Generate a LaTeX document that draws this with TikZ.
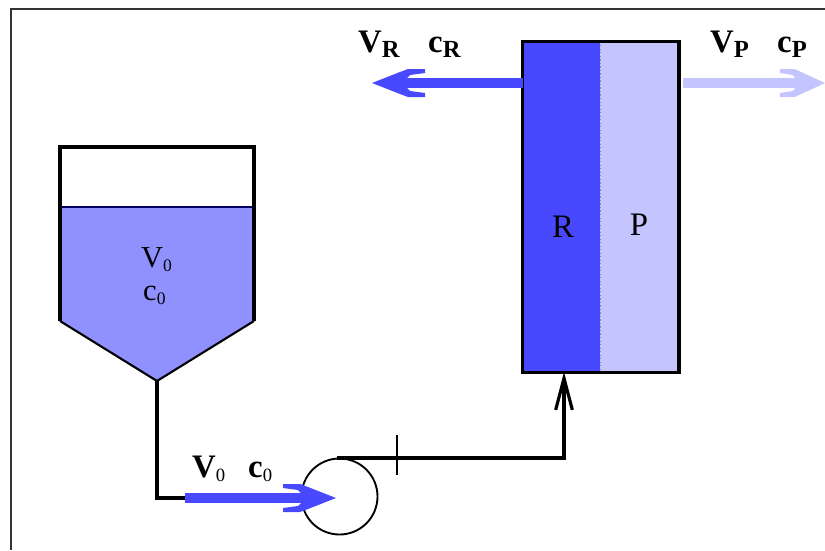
\documentclass[tikz,border=0pt]{standalone}
\usepackage{fontspec}
\setmainfont{Liberation Serif}
\usepackage{xcolor}
\usetikzlibrary{positioning,arrows.meta,calc}

\definecolor{feedblue}{HTML}{9090FF}
\definecolor{retblue}{HTML}{4848FF}
\definecolor{permblue}{HTML}{C4C4FF}

% bold flow symbol: letter + lowered subscript
\newcommand{\flowsym}[2]{{\fontsize{28}{28}\selectfont\bfseries #1}\raisebox{-5pt}{\fontsize{21}{21}\selectfont\bfseries #2}}
\newcommand{\feedsym}[2]{{\fontsize{28}{28}\selectfont\bfseries #1}\raisebox{-4pt}{\fontsize{16}{16}\selectfont #2}}
\newcommand{\tanksym}[2]{{\fontsize{26}{26}\selectfont #1}\raisebox{-4pt}{\fontsize{15}{15}\selectfont #2}}

\begin{document}
\begin{tikzpicture}[
        x=0.03cm, y=-0.03cm,
        membrane/.style={
            minimum width=2.31cm,
            minimum height=9.9cm,
            inner sep=0pt
        },
        symlabel/.style={anchor=base west, inner sep=0pt},
        modlabel/.style={inner sep=0pt, font=\fontsize{28}{28}\selectfont},
        wall/.style={draw=black, line width=2.8pt},
        pipe/.style={draw=black, line width=2.7pt},
        flowline/.style={line width=8.5pt, shorten >=0.6cm},
        flowhead/.pic={
            \fill (0,0) -- (-28,-11) -- (-36,-14) -- (-53,-14) -- (-53,-10) -- (-38,-8) -- (-34,-4)
                -- (-34,4) -- (-38,8) -- (-53,10) -- (-53,14) -- (-36,14) -- (-28,11) -- cycle;
        }
    ]
        \useasboundingbox (0,0) rectangle (825,550);

        % Frame
        \coordinate (framebl) at (11,550);
        \coordinate (frametl) at (11,9);
        \coordinate (frametr) at (825,9);
        \draw[black!80, line width=1pt] (framebl) -- (frametl) -- (frametr);

        % Tank
        \coordinate (tankapex) at (157,381);
        \fill[feedblue] (60,207) -- (254,207) -- (254,321) -- (tankapex) -- (60,321) -- cycle;
        \draw[blue!40!black, line width=0.9pt] (60,207) -- (254,207);
        \draw[wall] (60,321) -- (60,147) -- (254,147) -- (254,321);
        \draw[black, line width=1.8pt] (60,321) -- (tankapex) -- (254,321);
        \node[symlabel] (tankvol) at (141,267) {\tanksym{V}{0}};
        \node[symlabel] (tankconc) at (143,300) {\tanksym{c}{0}};

        % Pump
        \node[circle, draw=black, line width=1.6pt, minimum size=2.28cm, inner sep=0pt] (pump) at (339.5,496.5) {};
        \coordinate (pumptop) at (337,458);
        \coordinate (tickup) at (397,435);
        \coordinate (tickdown) at (397,475);

        % Membrane module
        \node[membrane, fill=retblue] (retentate) at (561.5,207) {};
        \node[membrane, fill=permblue, minimum width=2.35cm, right=0pt of retentate] (permeate) {};
        \draw[white!55!black, line width=1pt, dotted] (retentate.north east) -- (retentate.south east);
        \draw[wall] (retentate.north west) rectangle (permeate.south east);
        \node[modlabel] (rlabel) at (563,227) {R};
        \node[modlabel] (plabel) at (639,225) {P};

        % Outlet flows
        \coordinate (retout) at (372,83);
        \coordinate (permstart) at (683,83);
        \coordinate (permout) at (825,83);
        \draw[flowline, retblue] (retentate.west |- retout) -- (retout);
        \pic[retblue, rotate=180] at (retout) {flowhead};
        \draw[flowline, permblue] (permstart) -- (permout);
        \pic[permblue, xscale=0.85] at (permout) {flowhead};
        \node[symlabel] (vr) at (358,52) {\flowsym{V}{R}};
        \node[symlabel] (cr) at (428,52) {\flowsym{c}{R}};
        \node[symlabel] (vp) at (710,52) {\flowsym{V}{P}};
        \node[symlabel] (cp) at (777,52) {\flowsym{c}{P}};

        % Feed line
        \coordinate (feedcorner) at (157,498);
        \coordinate (feedstart) at (185,498);
        \coordinate (feedtip) at (336,498);
        \draw[pipe] (tankapex) -- (feedcorner) -- (feedstart);
        \draw[flowline, retblue] (feedstart) -- (feedtip);
        \pic[retblue] at (feedtip) {flowhead};
        \node[symlabel] (vfeed) at (192,477) {\feedsym{V}{0}};
        \node[symlabel] (cfeed) at (248,477) {\feedsym{c}{0}};

        % Pump to module
        \coordinate (pipecorner) at (564,458);
        \coordinate (pipeend) at (564,372);
        \draw[pipe, -{Straight Barb[length=0.95cm, width=0.5cm]}] (pumptop) -- (pipecorner) -- (pipeend);
        \draw[black, line width=1.4pt] (tickup) -- (tickdown);
\end{tikzpicture}
\end{document}
